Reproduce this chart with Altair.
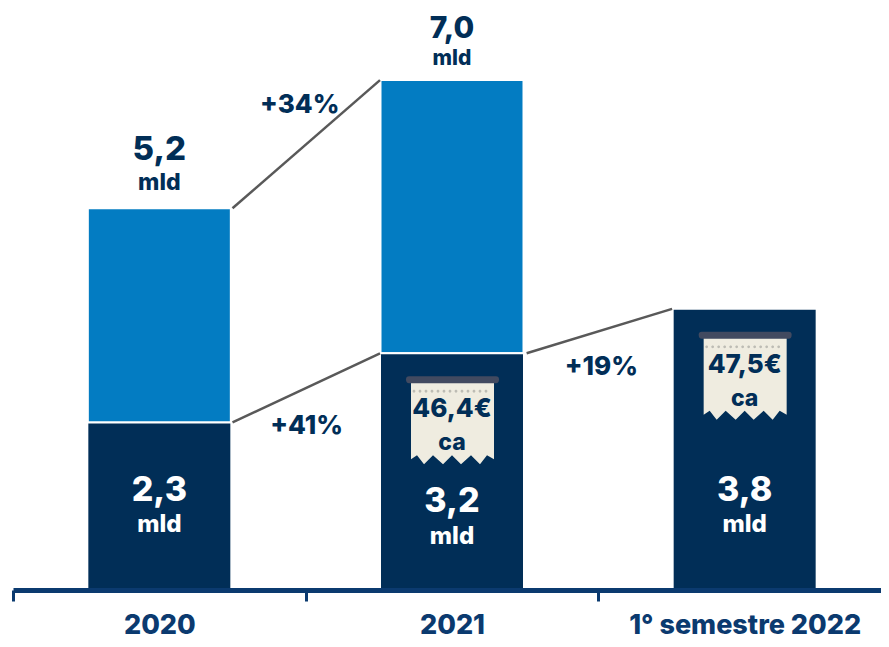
import altair as alt
import pandas as pd

periods = ["2020", "2021", "1° semestre 2022"]
dark_vals = [2.3, 3.25, 3.86]
total_vals = [5.24, 7.0, None]
dark_labels = ["2,3", "3,2", "3,8"]
total_labels = ["5,2", "7,0"]
unit = "mld"
receipt_vals = ["46,4€", "47,5€"]
receipt_unit = "ca"
growth_labels = ["+34%", "+41%", "+19%"]

NAVY = "#012e57"
BLUE = "#037cc2"
AXIS = "#0b3a6f"
FONT = "Inter"
SPAN = 878

df = pd.DataFrame({"period": periods, "dark": dark_vals, "total": total_vals, "zero": [0, 0, 0]})

axis = alt.Axis(labelAngle=0, labelFont=FONT, labelFontSize=27, labelFontWeight=800, labelColor=AXIS,
                labelPadding=24, labelLimit=0, domainColor=AXIS, domainWidth=5, tickBand="extent", tickColor=AXIS,
                tickWidth=3, tickSize=11, grid=False, zindex=1, labelBaseline="middle", title=None)
x_nom = alt.X("period:N", sort=periods, axis=axis,
              scale=alt.Scale(domain=periods, range=[0, SPAN], paddingInner=0, paddingOuter=0))
y_scale = alt.Scale(domain=[0, 7.99], nice=False, zero=True)
y_enc = alt.Y("v:Q", scale=y_scale, axis=None)

blue_bars = alt.Chart(df.dropna()).mark_bar(size=143, color=BLUE, stroke="white", strokeWidth=2).encode(
    x=x_nom, y=alt.Y("dark:Q", scale=y_scale, axis=None), y2="total:Q")
dark_bars = alt.Chart(df).mark_bar(size=144, color=NAVY, stroke="white", strokeWidth=2).encode(
    x=x_nom, y=alt.Y("dark:Q", scale=y_scale, axis=None), y2="zero:Q")


def text(rows, size, color, dy):
    d = pd.DataFrame(rows, columns=["period", "v", "t"])
    return alt.Chart(d).mark_text(font=FONT, fontSize=size, fontWeight=800, color=color, dy=dy,
                                  baseline="middle").encode(x=x_nom, y=y_enc, text="t:N")


texts = [
    text([(periods[0], total_vals[0], total_labels[0])], 33, NAVY, -58),
    text([(periods[0], total_vals[0], unit)], 23, NAVY, -25),
    text([(periods[1], total_vals[1], total_labels[1])], 30, NAVY, -51),
    text([(periods[1], total_vals[1], unit)], 21, NAVY, -21),
    text([(periods[0], 0, dark_labels[0]), (periods[2], 0, dark_labels[2])], 34, "white", -99),
    text([(periods[0], 0, unit), (periods[2], 0, unit)], 24, "white", -65),
    text([(periods[1], 0, dark_labels[1])], 34, "white", -88),
    text([(periods[1], 0, unit)], 24, "white", -53),
]

# receipts, anchored at the top of the dark bars
receipt_df = pd.DataFrame({"period": periods[1:], "v": dark_vals[1:], "val": receipt_vals, "u": [receipt_unit] * 2})
body_path = "M-41,24 H42 V106 L35,102 L28,111 L19,102 L9,111 L0,102 L-9,111 L-19,102 L-28,111 L-35,102 L-41,106 Z"
bar_path = "M-43,23 H44 Q47,23 47,26 Q47,30 44,30 H-43 Q-46,30 -46,26 Q-46,23 -43,23 Z"
dots_path = " ".join(f"M{x - 1.4},38 a1.4,1.4 0 1,0 2.8,0 a1.4,1.4 0 1,0 -2.8,0 Z" for x in range(-38, 40, 6))


def receipt_shape(path, color):
    return alt.Chart(receipt_df).mark_point(shape=path, filled=True, size=4, color=color, opacity=1).encode(
        x=x_nom, y=y_enc)


receipt_parts = [
    receipt_shape(body_path, "#efece0"),
    receipt_shape(bar_path, "#424a60"),
    receipt_shape(dots_path, "#bdbcb4"),
]
receipt_text = [
    alt.Chart(receipt_df).mark_text(font=FONT, fontSize=26, fontWeight=800, color=NAVY, dy=56, baseline="middle").encode(
        x=x_nom, y=y_enc, text="val:N"),
    alt.Chart(receipt_df).mark_text(font=FONT, fontSize=23, fontWeight=800, color=NAVY, dy=90, baseline="middle").encode(
        x=x_nom, y=y_enc, text="u:N"),
]

# connectors on a shared position scale, one unit per period
x_pos = alt.X("p:Q", scale=alt.Scale(domain=[0, 3], range=[0, SPAN], nice=False, zero=False), axis=None)
segments = [
    ("a", [0.75, 1.254], [total_vals[0], total_vals[1]]),
    ("b", [0.75, 1.254], [dark_vals[0], dark_vals[1]]),
    ("c", [1.755, 2.252], [dark_vals[1], dark_vals[2]]),
]
rows = [{"seg": s, "p": p, "v": v} for s, ps, vs in segments for p, v in zip(ps, vs)]
lines = alt.Chart(pd.DataFrame(rows)).mark_line(color="#595959", strokeWidth=2.5).encode(
    x=x_pos, y=y_enc, detail="seg:N")


def growth(label, p, v, dx, dy):
    d = pd.DataFrame({"p": [p], "v": [v], "t": [label]})
    return alt.Chart(d).mark_text(font=FONT, fontSize=26, fontWeight=800, color=NAVY, dx=dx, dy=dy,
                                  baseline="middle").encode(x=x_pos, y=y_enc, text="t:N")


growth_marks = [
    growth(growth_labels[0], 1, (total_vals[0] + total_vals[1]) / 2, -6, -39),
    growth(growth_labels[1], 1, (dark_vals[0] + dark_vals[1]) / 2, 1, 38),
    growth(growth_labels[2], 2, (dark_vals[1] + dark_vals[2]) / 2, 3, 36),
]

nominal = alt.layer(blue_bars, dark_bars, *receipt_parts, *receipt_text, *texts)
overlay = alt.layer(lines, *growth_marks)

chart = alt.layer(nominal, overlay).resolve_scale(x="independent").properties(
    width=868, height=582, padding={"left": 5, "top": 0, "right": 0, "bottom": 49},
    autosize=alt.AutoSizeParams(type="none"),
).configure_view(stroke=None)

chart.save("out.html", embed_options={"renderer": "svg", "actions": False})
